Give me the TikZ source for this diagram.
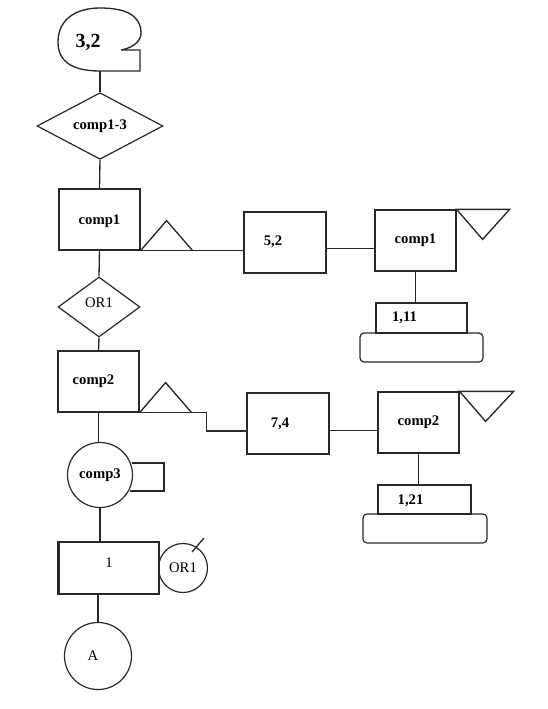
\documentclass[tikz,border=0pt]{standalone}
\usepackage{fontspec}
\setmainfont{Liberation Serif}
\usepackage{tikz}
\usetikzlibrary{shapes.geometric, positioning, calc}
\newdimen\px \px=0.75pt
\definecolor{inkgray}{RGB}{40, 40, 40}
\tikzset{
  blk/.style={draw=inkgray, line width=0.9pt, rectangle, inner sep=0pt, font=\bfseries\fontsize{11}{13}\selectfont},
  dia/.style={draw=inkgray, line width=0.9pt, diamond, inner sep=0pt, font=\fontsize{11}{13}\selectfont},
  rnd/.style={draw=inkgray, line width=0.9pt, circle, inner sep=0pt, font=\fontsize{11}{13}\selectfont},
  wire/.style={draw=inkgray, line width=1pt}
}

\begin{document}
\begin{tikzpicture}[x=0.75pt, y=-0.75pt]
  \useasboundingbox (0,0) rectangle (547,709);

  % start blob 3,2
  \draw[wire] (121,50) -- (140,50) -- (140,71) -- (100,71)
    .. controls (70,71) and (58,60) .. (58,42)
    .. controls (58,20) and (75,8) .. (100,8)
    .. controls (125,8) and (141,15) .. (141,33)
    .. controls (141,42) and (132,48) .. (121,50);
  \node[font=\bfseries\fontsize{15}{17}\selectfont, inner sep=0pt] (start) at (88,42) {3,2};
  \coordinate (startb) at (100,71);

  % left column
  \node[dia, font=\bfseries\fontsize{11}{13}\selectfont, minimum width=126\px, minimum height=60\px] (cmp13) at (100,126) {comp1-3};
  \node[blk, minimum width=81\px, minimum height=61\px] (comp1) at (99.5,219.5) {\raisebox{-14\px}{comp1}};
  \node[dia, minimum width=82\px, minimum height=60\px] (or1) at (99,307) {\raisebox{8\px}{OR1}};
  \node[blk, minimum width=81\px, minimum height=61\px] (comp2) at (98.5,381.5) {\hspace*{-10\px}comp2};
  \node[rnd, font=\bfseries\fontsize{11}{13}\selectfont, minimum size=65\px] (comp3) at (100,475) {comp3};
  \node[blk, font=\fontsize{11}{13}\selectfont, minimum width=100\px, minimum height=52\px] (one) at (109,568) {\raisebox{10\px}{1}};
  \node[rnd, minimum size=49\px] (orc) at (183,568) {OR1};
  \node[rnd, minimum size=67\px] (endA) at (98,656) {\hspace*{-10\px}A};

  % upper branch
  \node[blk, minimum width=82\px, minimum height=61\px] (w52) at (285,242.5) {\hspace*{-24\px}\raisebox{4\px}{5,2}};
  \node[blk, minimum width=81\px, minimum height=61\px] (comp1r) at (415.5,240.5) {\raisebox{-10\px}{comp1}};
  \node[blk, minimum width=91\px, minimum height=30\px] (v111) at (421.5,318) {\hspace*{-34\px}1,11};
  \node[draw=inkgray, line width=0.9pt, rounded corners=3pt, minimum width=123\px, minimum height=29\px] (base1) at (421.5,347.5) {};

  % lower branch
  \node[blk, minimum width=82\px, minimum height=61\px] (w74) at (288,423.5) {\hspace*{-16\px}7,4};
  \node[blk, minimum width=81\px, minimum height=61\px] (comp2r) at (418.5,422.5) {\raisebox{-4\px}{comp2}};
  \node[blk, minimum width=93\px, minimum height=29\px] (v121) at (424.5,499.5) {\hspace*{-28\px}\raisebox{-12\px}{1,21}};
  \node[draw=inkgray, line width=0.9pt, rounded corners=3pt, minimum width=124\px, minimum height=29\px] (base2) at (425,528.5) {};

  % connectors
  \draw[wire] (startb) -- (cmp13.north);
  \draw[wire] (cmp13.south) -- (comp1.north);
  \draw[wire] (comp1.south) -- (or1.north);
  \draw[wire] (or1.south) -- (comp2.north);
  \draw[wire] (comp2.south) -- (comp2.south |- comp3.north);
  \draw[wire] (comp3.south) -- (comp3.south |- one.north);
  \draw[wire, line width=1.8pt] (one.south -| endA.north) -- (endA.north);

  \draw[wire] (comp1.south east) -- (comp1.south east -| w52.west);
  \draw[wire] ([yshift=-6\px]w52.east) -- ([yshift=-6\px]w52.east -| comp1r.west);
  \draw[wire] (comp1r.south) -- (comp1r.south |- v111.north);

  \draw[wire] (comp2.south east) -- ++(67,0) |- ([yshift=-7.5\px]w74.west);
  \draw[wire] ([yshift=-7\px]w74.east) -- ([yshift=-7\px]w74.east -| comp2r.west);
  \draw[wire] (comp2r.south) -- (comp2r.south |- v121.north);

  % triangles
  \draw[wire] (comp1.south east) -- ++(26,-30) -- ++(26,30);
  \draw[wire] (comp2.south east) -- ++(26,-30) -- ++(26,30);
  \draw[wire] (comp1r.north east) -- ++(53,0) -- ++(-27,30) -- cycle;
  \draw[wire] (comp2r.north east) -- ++(54,0) -- ++(-28,30) -- cycle;

  % small marks
  \draw[wire] ($(comp3.center)+(32,-12)$) -- ++(32,0) -- ++(0,28) -- ++(-34,0);
  \draw[wire] ($(orc.center)+(9,-16)$) -- ++(12,-14);
  \draw[wire, line width=1.6pt] (one.north west) -- (one.south west);
\end{tikzpicture}
\end{document}
